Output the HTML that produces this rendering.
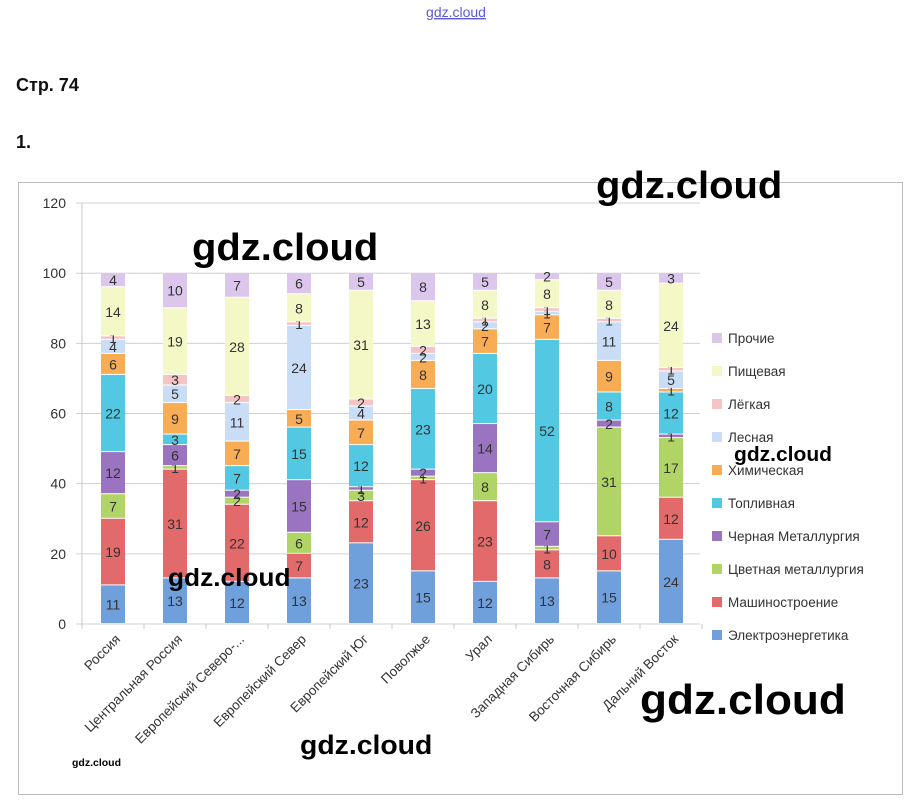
<!DOCTYPE html>
<html><head><meta charset="utf-8"><style>
body{margin:0;background:#fff;width:913px;height:805px;overflow:hidden;font-family:"Liberation Sans",sans-serif}
</style></head><body>
<svg id="s" width="913" height="805" xmlns="http://www.w3.org/2000/svg" font-family="Liberation Sans, DejaVu Sans, sans-serif">
<text x="456" y="17" text-anchor="middle" font-size="14" fill="#5b5bd6" text-decoration="underline">gdz.cloud</text>
<text x="16" y="91" font-size="18" font-weight="bold" fill="#111">Стр. 74</text>
<text x="16" y="148" font-size="18" font-weight="bold" fill="#111">1.</text>
<rect x="18.5" y="182.5" width="884" height="612" fill="none" stroke="#bbb"/>
</svg>
<script>
const s=document.getElementById('s');const NS='http://www.w3.org/2000/svg';
function el(t,a,txt){const e=document.createElementNS(NS,t);for(const k in a)e.setAttribute(k,a[k]);if(txt!==undefined)e.textContent=txt;s.appendChild(e);return e;}
const y0=624,k=3.508;
for(let v=0;v<=120;v+=20){const y=y0-v*k;el('line',{x1:76,x2:700,y1:y,y2:y,stroke:'#d0d0d0'});el('text',{x:66,y:y+5,'text-anchor':'end','font-size':14,fill:'#333'},v);}
el('line',{x1:82,x2:82,y1:203,y2:629,stroke:'#c8c8c8'});
const cols=['#6fa0dc','#e36a6a','#b0d465','#9a74c0','#52c8e2','#f8ad55','#c9def6','#f5c4c4','#f3f8c6','#dcc6ec'];
const data=[[11,19,7,12,22,6,4,1,14,4],[13,31,1,6,3,9,5,3,19,10],[12,22,2,2,7,7,11,2,28,7],[13,7,6,15,15,5,24,1,8,6],[23,12,3,1,12,7,4,2,31,5],[15,26,1,2,23,8,2,2,13,8],[12,23,8,14,20,7,2,1,8,5],[13,8,1,7,52,7,1,1,8,2],[15,10,31,2,8,9,11,1,8,5],[24,12,17,1,12,1,5,1,24,3]];
const names=['Россия','Центральная Россия','Европейский Северо-...','Европейский Север','Европейский Юг','Поволжье','Урал','Западная Сибирь','Восточная Сибирь','Дальний Восток'];
data.forEach((d,i)=>{const cx=113+i*62;let acc=0;
el('line',{x1:82+i*62+62,x2:82+i*62+62,y1:624,y2:629,stroke:'#c8c8c8'});
d.forEach((v,j)=>{const yt=y0-(acc+v)*k,yb=y0-acc*k;el('rect',{x:cx-12,y:yt,width:24,height:Math.max(0,yb-yt-1),fill:cols[j]});
el('text',{x:cx,y:(yt+yb)/2+5,'text-anchor':'middle','font-size':14,fill:'#333'},v);acc+=v;});
el('text',{x:cx+8,y:640,'text-anchor':'end','font-size':13.5,fill:'#333',transform:`rotate(-45 ${cx+8} 640)`},names[i]);});
const leg=['Прочие','Пищевая','Лёгкая','Лесная','Химическая','Топливная','Черная Металлургия','Цветная металлургия','Машиностроение','Электроэнергетика'];
leg.forEach((t,i)=>{const y=338+i*33;el('rect',{x:712,y:y-5,width:10,height:10,fill:cols[9-i]});el('text',{x:728,y:y+5,'font-size':13.5,fill:'#333'},t);});
[[596,198,38,'gdz.cloud'],[192,260,38,'gdz.cloud'],[734,461,20,'gdz.cloud'],[168,586,25,'gdz.cloud'],[640,714,42,'gdz.cloud'],[300,754,27,'gdz.cloud'],[72,766,10,'gdz.cloud']].forEach(w=>el('text',{x:w[0],y:w[1],'font-size':w[2],'font-weight':'bold',fill:'#000',textLength:w[2]*4.9,lengthAdjust:'spacingAndGlyphs'},w[3]));
</script>
</body></html>
